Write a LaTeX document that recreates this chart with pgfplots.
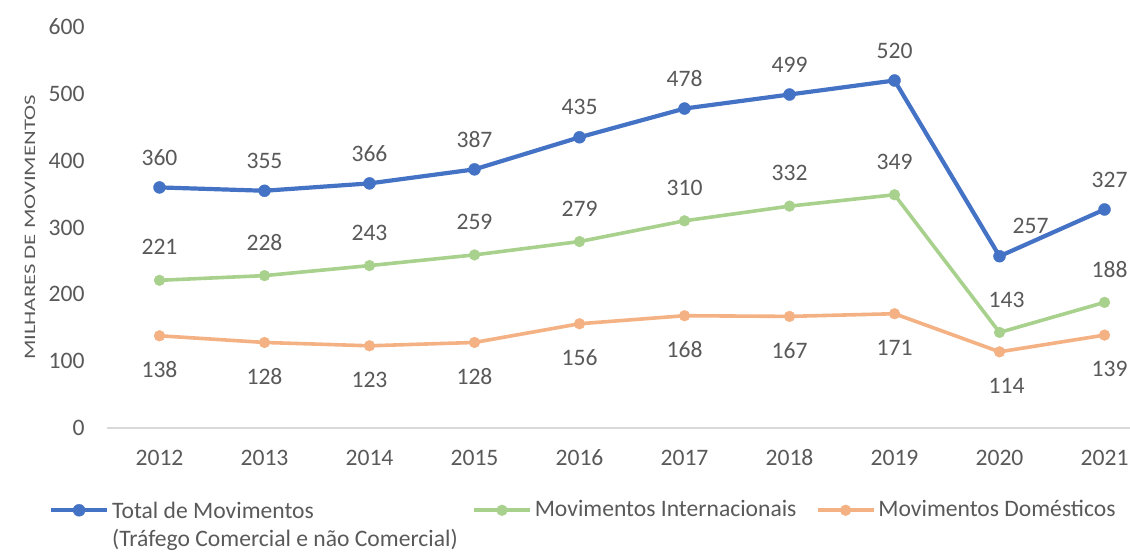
\documentclass[border=0pt]{standalone}
\usepackage{pgfplots}
\usepackage{pgfplotstable}
\pgfplotsset{compat=1.18}
\usepackage{fontspec}
\setmainfont{Carlito}
\definecolor{cBlue}{HTML}{4472C4}
\definecolor{cGreen}{HTML}{A9D18E}
\definecolor{cOrange}{HTML}{F4B183}
\definecolor{txt}{HTML}{595959}
\definecolor{axl}{HTML}{D9D9D9}

\pgfplotstableread{
x y dx
0 360 0
1 355 0
2 366 0
3 387 0
4 435 0
5 478 0
6 499 0
7 520 0
8 257 15.5
9 327 2.5
}\total
\pgfplotstableread{
x y dx
0 221 0
1 228 0
2 243 0
3 259 0
4 279 0
5 310 0
6 332 0
7 349 0
8 143 3.5
9 188 2.5
}\inter
\pgfplotstableread{
x y dx
0 138 0
1 128 0
2 123 0
3 128 0
4 156 0
5 168 0
6 167 0
7 171 0
8 114 3.5
9 139 2.5
}\dom

\begin{document}
\begin{tikzpicture}
\path[use as bounding box] (-53.5pt,-62pt) rectangle (511.5pt,214pt);
\begin{axis}[
  at={(0,0)}, anchor=south west,
  scale only axis, width=511.25pt, height=200.5pt,
  xmin=-0.5, xmax=9.238, ymin=0, ymax=600,
  clip=false,
  axis x line=bottom, axis y line=left,
  axis line style={-},
  x axis line style={axl, line width=0.9pt},
  y axis line style={draw=none},
  major tick length=0pt,
  xtick={0,...,9},
  xticklabels={2012,2013,2014,2015,2016,2017,2018,2019,2020,2021},
  ytick={0,100,...,600},
  /pgf/number format/assume math mode=true,
  tick label style={font=\fontsize{11.8}{13}\selectfont, text=txt},
  xticklabel style={anchor=center, yshift=-15pt},
  yticklabel style={anchor=east, inner sep=0pt, xshift=-11pt},
  ylabel={\scalebox{1.42}[1]{MILHARES DE MOVIMENTOS}},
  ylabel style={at={(axis description cs:-0.0753,0.5)}, anchor=center, font=\fontsize{8}{9}\selectfont, text=txt},
  legend columns=3,
  legend style={at={(axis description cs:-0.0567,-0.177)}, anchor=north west,
    draw=none, fill=none, inner sep=0pt, outer sep=0pt,
    font=\fontsize{11.8}{14}\selectfont, text=txt,
    nodes={inner xsep=1.5pt, inner ysep=0pt}},
  legend image code/.code={\draw[#1, mark repeat=2, mark phase=2] plot coordinates {(0pt,0pt) (14pt,0pt) (28pt,0pt)};},
  nodes near coords,
  point meta=y,
  every node near coord/.append style={font=\fontsize{11.8}{13}\selectfont, text=txt, anchor=center},
]
\addplot[cBlue, line width=2.1pt, mark=*, mark size=3pt, mark options={fill=cBlue, draw=cBlue, line width=0.2pt},
  visualization depends on={\thisrow{dx} \as \dx},
  nodes near coords style={yshift=15pt, xshift=\dx pt}]
  table[x=x, y=y] {\total};
\addlegendentry{\makebox[178.5pt][l]{\begin{tabular}[t]{@{}l@{}}Total de Movimentos\\(Tráfego Comercial e não Comercial)\end{tabular}}}
\addplot[cGreen, line width=1.8pt, mark=*, mark size=2.7pt, mark options={fill=cGreen, draw=cGreen, line width=0.2pt},
  visualization depends on={\thisrow{dx} \as \dx},
  nodes near coords style={yshift=16.5pt, xshift=\dx pt}]
  table[x=x, y=y] {\inter};
\addlegendentry{\makebox[139pt][l]{Movimentos Internacionais}}
\addplot[cOrange, line width=1.8pt, mark=*, mark size=2.7pt, mark options={fill=cOrange, draw=cOrange, line width=0.2pt},
  visualization depends on={\thisrow{dx} \as \dx},
  nodes near coords style={yshift=-17pt, xshift=\dx pt}]
  table[x=x, y=y] {\dom};
\addlegendentry{Movimentos Domésticos}
\end{axis}
\end{tikzpicture}
\end{document}
